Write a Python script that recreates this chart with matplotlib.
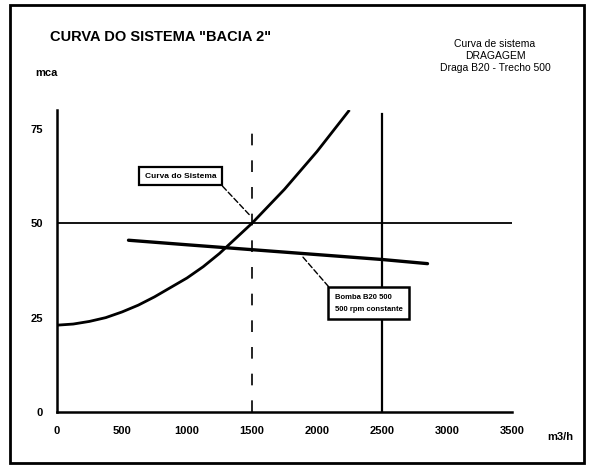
import matplotlib
matplotlib.use("Agg")
import matplotlib.pyplot as plt
from matplotlib.patches import Rectangle

plt.rcParams['font.family'] = ['Liberation Sans', 'DejaVu Sans']

# System curve (m3/h, mca)
sys_q = [0, 125, 250, 375, 500, 625, 750, 875, 1000, 1125, 1250, 1375, 1500,
         1625, 1750, 1875, 2000, 2125, 2250]
sys_h = [23, 23.3, 24, 25, 26.5, 28.3, 30.5, 33, 35.5, 38.5, 42, 46, 50,
         54.5, 59, 64, 69, 74.5, 80]

# Pump curve
pump_q = [550, 1000, 1500, 2000, 2500, 2850]
pump_h = [45.5, 44.3, 43.0, 41.7, 40.4, 39.3]

x_ticks = [0, 500, 1000, 1500, 2000, 2500, 3000, 3500]
y_ticks = [0, 25, 50, 75]
h_ref = 50
q_dashed = 1500
q_solid = 2500

fig = plt.figure(figsize=(5.9, 4.68), dpi=100)
ax = fig.add_axes([57/590, 1-412/468, (512-57)/590, (412-110)/468])

ax.plot(sys_q, sys_h, color='black', lw=2.0, solid_capstyle='butt')
ax.plot(pump_q, pump_h, color='black', lw=2.4, solid_capstyle='round')
ax.axhline(h_ref, color='black', lw=1.3)
ax.plot([q_dashed, q_dashed], [0, 76], color='black', lw=1.2, ls=(0, (7, 9)))
ax.plot([q_solid, q_solid], [0, 79], color='black', lw=1.6)

ax.set_xlim(0, 3500)
ax.set_ylim(0, 80)
ax.set_xticks(x_ticks)
ax.set_yticks(y_ticks)
ax.set_xticklabels([str(v) for v in x_ticks], fontsize=8, fontweight='bold')
ax.set_yticklabels([str(v) for v in y_ticks], fontsize=8, fontweight='bold')
ax.tick_params(length=0, pad=10)
for s in ['top', 'right']:
    ax.spines[s].set_visible(False)
for s in ['left', 'bottom']:
    ax.spines[s].set_linewidth(1.8)

# annotations
ax.annotate('Curva do Sistema', xy=(1500, 51.5), xytext=(950, 62.5),
            fontsize=6, fontweight='bold', ha='center', va='center',
            bbox=dict(boxstyle='square,pad=0.7', fc='white', ec='black', lw=1.6),
            arrowprops=dict(arrowstyle='-', color='black', lw=1.0, ls=(0, (4, 2)),
                            shrinkA=0, shrinkB=2, relpos=(1, 0)))
ax.annotate('Bomba B20 500\n500 rpm constante', xy=(1870, 41.9), xytext=(2135, 28.8),
            fontsize=5.5, fontweight='bold', ha='left', va='center', linespacing=2.1,
            bbox=dict(boxstyle='square,pad=0.8', fc='white', ec='black', lw=1.8),
            arrowprops=dict(arrowstyle='-', color='black', lw=1.0, ls=(0, (4, 2)),
                            shrinkA=0, shrinkB=2, relpos=(0, 1)))

fig.text(50/590, 1-37/468, 'CURVA DO SISTEMA "BACIA 2"', fontsize=10.5, fontweight='bold',
         ha='left', va='center')
fig.text(495/590, 1-56/468, 'Curva de sistema\nDRAGAGEM\nDraga B20 - Trecho 500',
         fontsize=7.5, ha='center', va='center', linespacing=1.3)
fig.text(35/590, 1-73/468, 'mca', fontsize=8, fontweight='bold', ha='left', va='center')
fig.text(547/590, 1-437/468, 'm3/h', fontsize=8, fontweight='bold', ha='left', va='center')

# outer frame
fig.patches.append(Rectangle((10/590, 5/468), 574/590, 458/468, transform=fig.transFigure,
                             fill=False, ec='black', lw=2.0))

fig.savefig('out.png', dpi=100)
